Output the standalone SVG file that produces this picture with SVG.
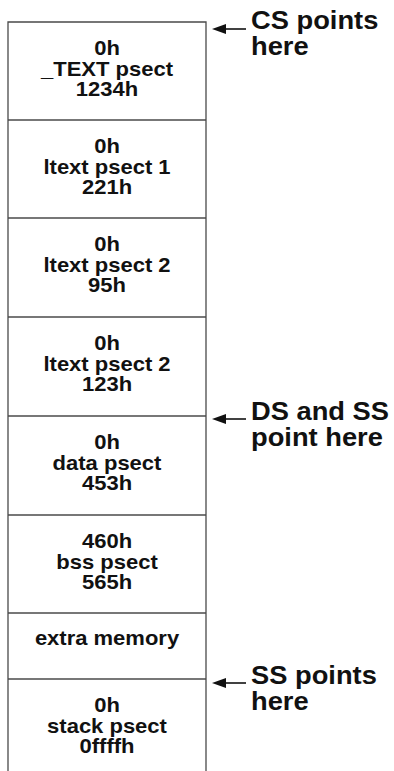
<svg xmlns="http://www.w3.org/2000/svg" width="394" height="771" viewBox="0 0 394 771">
<style>
.box{fill:#fff;stroke:#4a4a4a;stroke-width:1.3}
.sep{stroke:#4a4a4a;stroke-width:1.3}
.t{font-family:"Liberation Sans",Arial,sans-serif;font-weight:bold;font-size:20px;fill:#111;text-anchor:middle}
.l{font-family:"Liberation Sans",Arial,sans-serif;font-weight:bold;font-size:26px;fill:#111}
.arr{stroke:#111;stroke-width:1.6;fill:none}
</style>
<defs>
<marker id="ah" viewBox="0 0 10 10" refX="0" refY="5" markerWidth="14" markerHeight="10" markerUnits="userSpaceOnUse" orient="auto-start-reverse" preserveAspectRatio="none">
<path d="M0,0 L10,5 L0,10 Z" fill="#111"/>
</marker>
</defs>
<rect width="394" height="771" fill="#fff"/>
<g id="memory">
<path class="box" d="M8,771 V22 H206 V771"/>
</g>
<g id="text-psect">
<text class="t" transform="translate(107,55) scale(1.1,1)">0h</text>
<text class="t" transform="translate(107,75.5) scale(1.1,1)">_TEXT psect</text>
<text class="t" transform="translate(107,96) scale(1.1,1)">1234h</text>
</g>
<g id="ltext-psect-1">
<line class="sep" x1="8" y1="120" x2="206" y2="120"/>
<text class="t" transform="translate(107,153) scale(1.1,1)">0h</text>
<text class="t" transform="translate(107,173.5) scale(1.1,1)">ltext psect 1</text>
<text class="t" transform="translate(107,194) scale(1.1,1)">221h</text>
</g>
<g id="ltext-psect-2a">
<line class="sep" x1="8" y1="218" x2="206" y2="218"/>
<text class="t" transform="translate(107,251) scale(1.1,1)">0h</text>
<text class="t" transform="translate(107,271.5) scale(1.1,1)">ltext psect 2</text>
<text class="t" transform="translate(107,292) scale(1.1,1)">95h</text>
</g>
<g id="ltext-psect-2b">
<line class="sep" x1="8" y1="317" x2="206" y2="317"/>
<text class="t" transform="translate(107,350) scale(1.1,1)">0h</text>
<text class="t" transform="translate(107,370.5) scale(1.1,1)">ltext psect 2</text>
<text class="t" transform="translate(107,391) scale(1.1,1)">123h</text>
</g>
<g id="data-psect">
<line class="sep" x1="8" y1="416" x2="206" y2="416"/>
<text class="t" transform="translate(107,449) scale(1.1,1)">0h</text>
<text class="t" transform="translate(107,469.5) scale(1.1,1)">data psect</text>
<text class="t" transform="translate(107,490) scale(1.1,1)">453h</text>
</g>
<g id="bss-psect">
<line class="sep" x1="8" y1="515" x2="206" y2="515"/>
<text class="t" transform="translate(107,548) scale(1.1,1)">460h</text>
<text class="t" transform="translate(107,568.5) scale(1.1,1)">bss psect</text>
<text class="t" transform="translate(107,589) scale(1.1,1)">565h</text>
</g>
<g id="extra-memory">
<line class="sep" x1="8" y1="613" x2="206" y2="613"/>
<text class="t" transform="translate(107,645) scale(1.1,1)">extra memory</text>
</g>
<g id="stack-psect">
<line class="sep" x1="8" y1="679" x2="206" y2="679"/>
<text class="t" transform="translate(107,712) scale(1.1,1)">0h</text>
<text class="t" transform="translate(107,732.5) scale(1.1,1)">stack psect</text>
<text class="t" transform="translate(107,753) scale(1.1,1)">0ffffh</text>
</g>
<g id="cs-label">
<text class="l" transform="translate(251,29) scale(1.05,1)">CS points</text>
<text class="l" transform="translate(251,55) scale(1.05,1)">here</text>
</g>
<g id="ds-label">
<text class="l" transform="translate(251,420) scale(1.05,1)">DS and SS</text>
<text class="l" transform="translate(251,446) scale(1.05,1)">point here</text>
</g>
<g id="ss-label">
<text class="l" transform="translate(251,684) scale(1.05,1)">SS points</text>
<text class="l" transform="translate(251,710) scale(1.05,1)">here</text>
</g>
<g id="connectors">
<line class="arr" x1="246" y1="29" x2="226" y2="29" marker-end="url(#ah)"/>
<line class="arr" x1="246" y1="419" x2="226" y2="419" marker-end="url(#ah)"/>
<line class="arr" x1="246" y1="683" x2="226" y2="683" marker-end="url(#ah)"/>
</g>
</svg>
